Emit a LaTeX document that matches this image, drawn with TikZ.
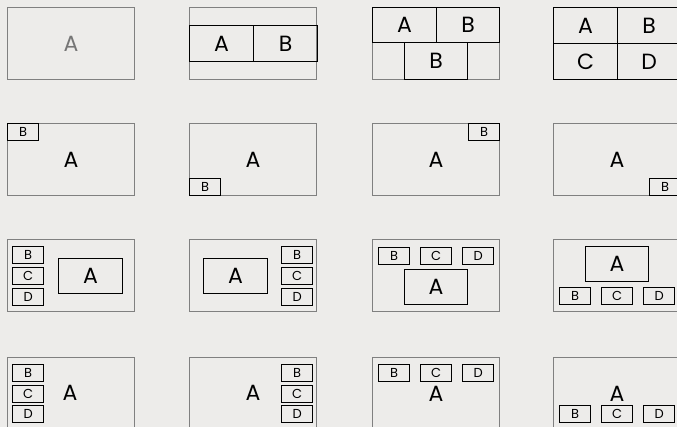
\documentclass[tikz,border=0pt]{standalone}
\usepackage{fontspec}
\setmainfont{Poppins}
\definecolor{bg}{RGB}{237,236,234}
\definecolor{cellgray}{RGB}{128,128,128}
\definecolor{txtgray}{RGB}{118,118,118}
\begin{document}
\begin{tikzpicture}[x=1pt,y=-1pt,
  cell/.style={draw=cellgray, line width=1pt, minimum width=127pt, minimum height=72pt, anchor=north west, inner sep=0pt, font=\fontsize{22}{22}\selectfont},
  sb/.style={draw=black, line width=1.2pt, minimum width=31pt, minimum height=17pt, anchor=north west, inner sep=0pt, font=\fontsize{13}{13}\selectfont},
  mb/.style={draw=black, line width=1.2pt, anchor=north west, inner sep=0pt, font=\fontsize{22}{22}\selectfont},
  lbl/.style={inner sep=0pt, font=\fontsize{22}{22}\selectfont}]
\useasboundingbox (0,0) rectangle (677,427);
\fill[bg] (0,0) rectangle (677,427);
% Row 1
\node[cell, text=txtgray] (c11) at (7,7) {A};
\node[cell] (c12) at (189,7) {};
\node[mb, minimum width=64pt, minimum height=36pt] (c12a) at (189,25) {A};
\node[mb, minimum width=64pt, minimum height=36pt] (c12b) at (253,25) {B};
\node[cell] (c13) at (372,7) {};
\node[mb, minimum width=64pt, minimum height=35pt] (c13a) at (372,7) {A};
\node[mb, minimum width=63pt, minimum height=35pt] (c13b) at (436,7) {B};
\node[mb, minimum width=63pt, minimum height=37pt] (c13c) at (404,42) {B};
\node[cell] (c14) at (553,7) {};
\node[mb, minimum width=64pt, minimum height=36pt] (c14a) at (553,7) {A};
\node[mb, minimum width=63pt, minimum height=36pt] (c14b) at (617,7) {B};
\node[mb, minimum width=64pt, minimum height=36pt] (c14c) at (553,43) {C};
\node[mb, minimum width=63pt, minimum height=36pt] (c14d) at (617,43) {D};
% Row 2
\node[cell] (c21) at (7,123) {A};
\node[sb] (c21b) at (7,123) {B};
\node[cell] (c22) at (189,123) {A};
\node[sb] (c22b) at (189,178) {B};
\node[cell] (c23) at (372,123) {A};
\node[sb] (c23b) at (468,123) {B};
\node[cell] (c24) at (553,123) {A};
\node[sb] (c24b) at (649,178) {B};
% Row 3
\node[cell] (c31) at (7,239) {};
\node[sb] (c31b) at (12,246) {B};
\node[sb] (c31c) at (12,267) {C};
\node[sb] (c31d) at (12,288) {D};
\node[mb, minimum width=64pt, minimum height=35pt] (c31a) at (58,258) {A};
\node[cell] (c32) at (189,239) {};
\node[mb, minimum width=64pt, minimum height=35pt] (c32a) at (203,258) {A};
\node[sb] (c32b) at (281,246) {B};
\node[sb] (c32c) at (281,267) {C};
\node[sb] (c32d) at (281,288) {D};
\node[cell] (c33) at (372,239) {};
\node[sb] (c33b) at (378,247) {B};
\node[sb] (c33c) at (420,247) {C};
\node[sb] (c33d) at (462,247) {D};
\node[mb, minimum width=63pt, minimum height=35pt] (c33a) at (404,269) {A};
\node[cell] (c34) at (553,239) {};
\node[mb, minimum width=63pt, minimum height=35pt] (c34a) at (585,246) {A};
\node[sb] (c34b) at (559,287) {B};
\node[sb] (c34c) at (601,287) {C};
\node[sb] (c34d) at (643,287) {D};
% Row 4
\node[cell] (c41) at (7,357) {};
\node[sb] (c41b) at (12,364) {B};
\node[sb] (c41c) at (12,385) {C};
\node[sb] (c41d) at (12,405) {D};
\node[lbl] (c41a) at (70,393) {A};
\node[cell] (c42) at (189,357) {};
\node[lbl] (c42a) at (253,393) {A};
\node[sb] (c42b) at (281,364) {B};
\node[sb] (c42c) at (281,385) {C};
\node[sb] (c42d) at (281,405) {D};
\node[cell] (c43) at (372,357) {};
\node[sb] (c43b) at (378,364) {B};
\node[sb] (c43c) at (420,364) {C};
\node[sb] (c43d) at (462,364) {D};
\node[lbl] (c43a) at (436,394) {A};
\node[cell] (c44) at (553,357) {};
\node[lbl] (c44a) at (617,394) {A};
\node[sb] (c44b) at (559,405) {B};
\node[sb] (c44c) at (601,405) {C};
\node[sb] (c44d) at (643,405) {D};
\end{tikzpicture}
\end{document}
